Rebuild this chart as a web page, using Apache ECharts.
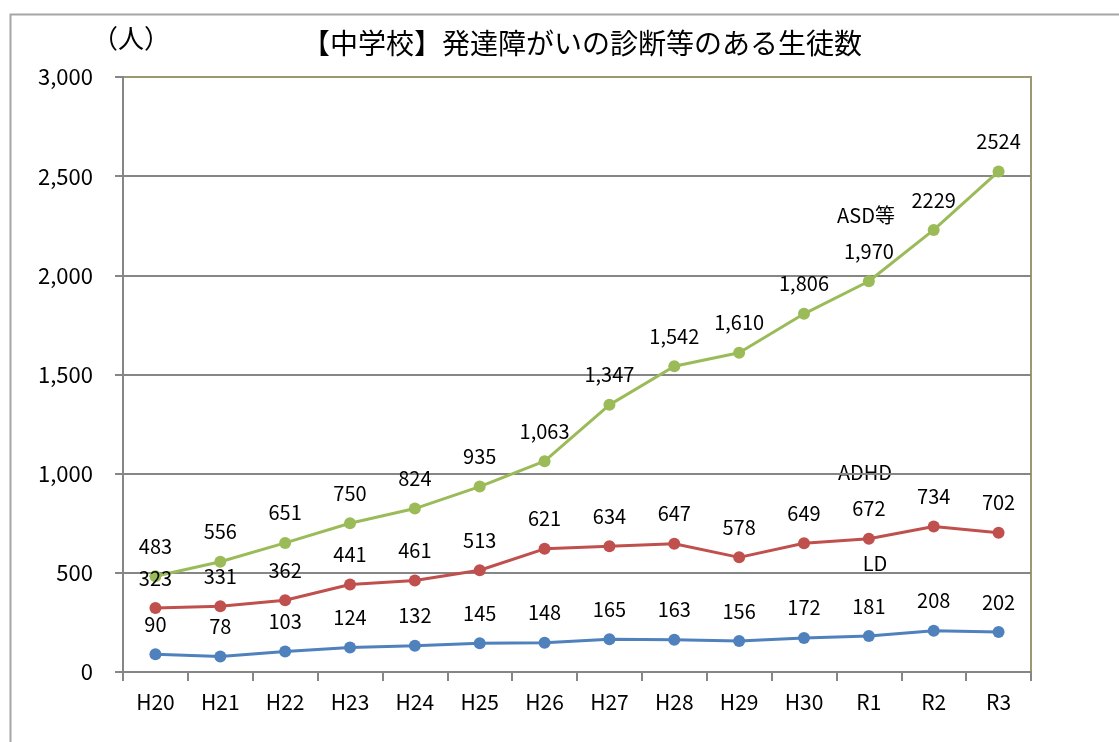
<!DOCTYPE html>
<html>
<head>
<meta charset="utf-8">
<script src="https://cdn.jsdelivr.net/npm/echarts@6/dist/echarts.min.js"></script>
<style>
html,body{margin:0;padding:0;background:#fff;}
#c{width:1119px;height:742px;}
</style>
</head>
<body>
<div id="c"></div>
<script>
const categories = ['H20','H21','H22','H23','H24','H25','H26','H27','H28','H29','H30','R1','R2','R3'];
const asdValues  = [483, 556, 651, 750, 824, 935, 1063, 1347, 1542, 1610, 1806, 1970, 2229, 2524];
const asdLabels  = ['483','556','651','750','824','935','1,063','1,347','1,542','1,610','1,806','1,970','2229','2524'];
const adhdValues = [323, 331, 362, 441, 461, 513, 621, 634, 647, 578, 649, 672, 734, 702];
const ldValues   = [90, 78, 103, 124, 132, 145, 148, 165, 163, 156, 172, 181, 208, 202];
const yTicks     = ['0','500','1,000','1,500','2,000','2,500','3,000'];

const FONT = '"Noto Sans CJK JP", "Liberation Sans", sans-serif';
const chart = echarts.init(document.getElementById('c'));

function mkSeries(name, data, color, labels){
  return {
    name: name, type: 'line', data: data,
    symbol: 'circle', symbolSize: 12,
    lineStyle: {color: color, width: 3},
    itemStyle: {color: color},
    label: {
      show: true, position: 'top', distance: 14,
      color: '#000', fontSize: 20, fontFamily: FONT,
      formatter: labels ? (p => labels[p.dataIndex]) : (p => String(p.value))
    },
    z: 3
  };
}

chart.setOption({
  backgroundColor: '#fff',
  animation: false,
  title: {
    text: '【中学校】発達障がいの診断等のある生徒数',
    left: 577, top: 24, textAlign: 'center',
    textStyle: {fontFamily: FONT, fontSize: 28, fontWeight: 'normal', color: '#000'}
  },
  grid: {
    left: 123, right: 88, top: 77, bottom: 70,
    show: true, borderColor: '#9C9870', borderWidth: 2, backgroundColor: 'transparent'
  },
  xAxis: {
    type: 'category', data: categories, boundaryGap: true,
    axisLine: {lineStyle: {color: '#868686', width: 2}},
    axisTick: {show: true, length: 9, lineStyle: {color: '#868686', width: 2}},
    axisLabel: {color: '#000', fontSize: 21, fontFamily: FONT, margin: 20}
  },
  yAxis: {
    type: 'value', min: 0, max: 3000, interval: 500,
    axisLine: {show: true, lineStyle: {color: '#868686', width: 2}},
    axisTick: {show: true, length: 8, lineStyle: {color: '#868686', width: 2}},
    axisLabel: {color: '#000', fontSize: 22, fontFamily: FONT, margin: 30,
      formatter: (v, i) => yTicks[i]},
    splitLine: {show: true, lineStyle: {color: ['#868686','#868686','#868686','#868686','#868686','#868686','#9C9870'], width: 2}}
  },
  series: [
    mkSeries('ASD等', asdValues, '#9BBB59', asdLabels),
    mkSeries('ADHD', adhdValues, '#C0504D', null),
    mkSeries('LD', ldValues, '#4F81BD', null)
  ],
  graphic: [
    {type: 'rect', left: 8, top: 12, shape: {width: 1200, height: 800},
     style: {fill: 'none', stroke: '#A6A6A6', lineWidth: 2}, silent: true},
    {type: 'text', left: 92, top: 25,
     style: {text: '（人）', fontSize: 26, fontFamily: FONT, fill: '#000'}},
    {type: 'text', x: 866, y: 215,
     style: {text: 'ASD等', fontSize: 20, fontFamily: FONT, fill: '#000', align: 'center', verticalAlign: 'middle'}},
    {type: 'text', x: 865, y: 472,
     style: {text: 'ADHD', fontSize: 20, fontFamily: FONT, fill: '#000', align: 'center', verticalAlign: 'middle'}},
    {type: 'text', x: 875, y: 563,
     style: {text: 'LD', fontSize: 20, fontFamily: FONT, fill: '#000', align: 'center', verticalAlign: 'middle'}}
  ]
});
</script>
</body>
</html>
